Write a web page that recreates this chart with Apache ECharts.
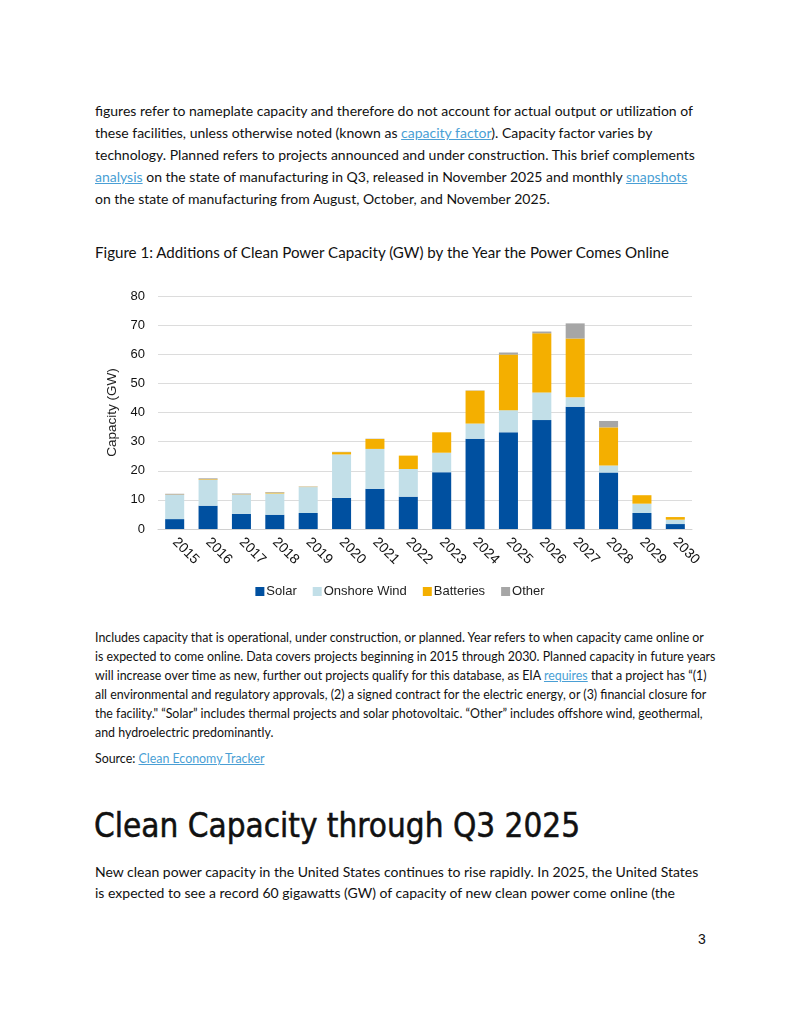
<!DOCTYPE html>
<html>
<head>
<meta charset="utf-8">
<script src="https://cdn.jsdelivr.net/npm/echarts@6/dist/echarts.min.js"></script>
<style>
  html, body { margin: 0; padding: 0; background: #fff; }
  body { width: 800px; height: 1035px; position: relative; overflow: hidden; font-family: Lato, "Noto Sans", sans-serif; color: #111; }
  .ln { position: absolute; left: 95px; white-space: nowrap; }
  .p1 { font-size: 14px; }
  .note { font-size: 12.4px; }
  a { color: #4a9fd5; text-decoration: underline; }
  #title { position: absolute; left: 95px; top: 243px; font-size: 15.1px; white-space: nowrap; }
  #h2 { position: absolute; left: 94px; top: 806px; font-size: 33px; white-space: nowrap; font-family: "DejaVu Sans Condensed", sans-serif; -webkit-text-stroke: 0.5px #111; }
  #chart { position: absolute; left: 90px; top: 280px; width: 620px; height: 330px; }
  #pg { position: absolute; left: 698px; top: 931px; font-size: 14px; font-family: "Liberation Sans", Arial, sans-serif; }
</style>
</head>
<body>
<div class="ln p1" style="top:102px">figures refer to nameplate capacity and therefore do not account for actual output or utilization of</div>
<div class="ln p1" style="top:124px">these facilities, unless otherwise noted (known as <a>capacity factor</a>). Capacity factor varies by</div>
<div class="ln p1" style="top:146px">technology. Planned refers to projects announced and under construction. This brief complements</div>
<div class="ln p1" style="top:168px"><a>analysis</a> on the state of manufacturing in Q3, released in November 2025 and monthly <a>snapshots</a></div>
<div class="ln p1" style="top:190px">on the state of manufacturing from August, October, and November 2025.</div>

<div id="title">Figure 1: Additions of Clean Power Capacity (GW) by the Year the Power Comes Online</div>

<div id="chart"></div>

<div class="ln note" style="top:630px">Includes capacity that is operational, under construction, or planned. Year refers to when capacity came online or</div>
<div class="ln note" style="top:649px">is expected to come online. Data covers projects beginning in 2015 through 2030. Planned capacity in future years</div>
<div class="ln note" style="top:668px">will increase over time as new, further out projects qualify for this database, as EIA <a>requires</a> that a project has “(1)</div>
<div class="ln note" style="top:687px">all environmental and regulatory approvals, (2) a signed contract for the electric energy, or (3) financial closure for</div>
<div class="ln note" style="top:706px">the facility." “Solar” includes thermal projects and solar photovoltaic. “Other” includes offshore wind, geothermal,</div>
<div class="ln note" style="top:725px">and hydroelectric predominantly.</div>
<div class="ln note" style="top:751px">Source: <a>Clean Economy Tracker</a></div>

<div id="h2">Clean Capacity through Q3 2025</div>

<div class="ln p1" style="top:863px">New clean power capacity in the United States continues to rise rapidly. In 2025, the United States</div>
<div class="ln p1" style="top:884px">is expected to see a record 60 gigawatts (GW) of capacity of new clean power come online (the</div>

<div id="pg">3</div>

<script>
const years = ['2015','2016','2017','2018','2019','2020','2021','2022','2023','2024','2025','2026','2027','2028','2029','2030'];
const solar     = [3.4, 8.0, 5.2, 4.9, 5.5, 10.7, 13.8, 11.1, 19.5, 31.0, 33.2, 37.4, 42.0, 19.4, 5.5, 1.7];
const wind      = [8.3, 8.9, 6.6, 7.3, 8.9, 14.9, 13.7, 9.5, 6.7, 5.2, 7.6, 9.5, 3.2, 2.4, 3.2, 1.5];
const batteries = [0.1, 0.2, 0.1, 0.3, 0.1, 0.8, 3.4, 4.6, 7.0, 11.3, 19.1, 20.3, 20.2, 13.1, 2.9, 0.9];
const other     = [0.3, 0.3, 0.3, 0.2, 0.1, 0.1, 0.1, 0.0, 0.0, 0.1, 0.7, 0.6, 5.2, 2.2, 0.0, 0.0];
const yTicks = [0, 10, 20, 30, 40, 50, 60, 70, 80];

const chart = echarts.init(document.getElementById('chart'), null, {renderer: 'canvas'});
const font = 'Liberation Sans, Arial, sans-serif';
const mk = (name, data, color) => ({
  name, type: 'bar', stack: 'total', data, barCategoryGap: '43%',
  itemStyle: { color }, emphasis: { disabled: true }
});
chart.setOption({
  animation: false,
  textStyle: { fontFamily: font },
  grid: { left: 68, right: 18, top: 16, bottom: 81, containLabel: false },
  legend: {
    bottom: 7, left: 'center', icon: 'rect', itemWidth: 9, itemHeight: 9, itemGap: 16,
    textStyle: { fontSize: 13, color: '#222', fontFamily: font, padding: [0, 0, 0, -3] },
    data: ['Solar', 'Onshore Wind', 'Batteries', 'Other']
  },
  xAxis: {
    type: 'category', data: years,
    axisLine: { lineStyle: { color: '#d0d0d0' } },
    axisTick: { show: false },
    axisLabel: { rotate: -45, fontSize: 14, color: '#111', margin: 11, fontFamily: font, interval: 0 }
  },
  yAxis: {
    type: 'value', min: yTicks[0], max: yTicks[yTicks.length - 1], interval: 10,
    name: 'Capacity (GW)', nameLocation: 'middle', nameGap: 28,
    nameTextStyle: { fontSize: 13.5, color: '#222', fontFamily: font },
    axisLine: { show: false }, axisTick: { show: false },
    axisLabel: { fontSize: 13, color: '#111', margin: 13, fontFamily: font },
    splitLine: { lineStyle: { color: '#dcdcdc' } }
  },
  series: [
    mk('Solar', solar, '#0050A0'),
    mk('Onshore Wind', wind, '#C2DFE8'),
    mk('Batteries', batteries, '#F4AF00'),
    mk('Other', other, '#A6A6A6')
  ]
});
</script>
</body>
</html>
